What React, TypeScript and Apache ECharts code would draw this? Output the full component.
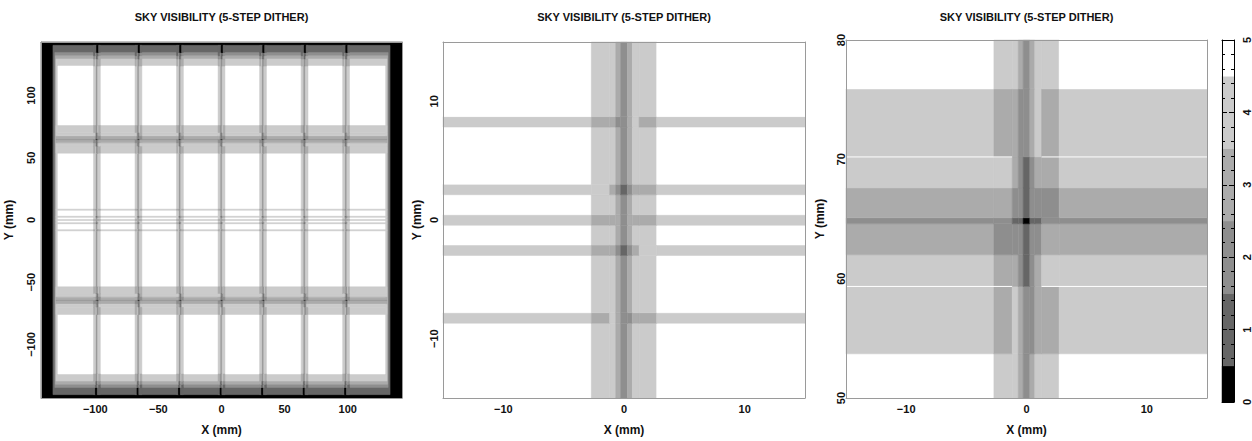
import React, { useEffect, useRef } from "react";
import * as echarts from "echarts";

// grey level for each visibility count 0..5
const grays = ["#000000", "#666666", "#8e8e8e", "#ababab", "#cbcbcb", "#ffffff"];

// x edges (mm, relative to a column-gap centre) of the 7 inner segments
const crossX = [-2.71, -1.19, -0.69, -0.28, 0.28, 0.69, 1.25, 2.71];
// visibility of those 7 segments away from any row gap
const baseInner = [4, 4, 3, 2, 3, 4, 4];

// ---- Panel 2: centre of the mosaic (±15 mm)
const p2XEdges = [-15, -2.71, -1.19, -0.69, -0.28, 0.28, 0.69, 1.25, 2.71, 15];
const p2YEdges = [-15, -8.7, -7.82, -2.99, -2.11, -0.44, 0.44, 2.13, 3.01, 7.83, 8.71, 15];
const p2Values = [
  [5, 4, 4, 3, 2, 3, 4, 4, 5],
  [4, 3, 4, 3, 2, 2, 3, 3, 4],
  [5, 4, 4, 3, 2, 3, 4, 4, 5],
  [4, 3, 3, 2, 1, 2, 3, 4, 4],
  [5, 4, 4, 3, 2, 3, 4, 4, 5],
  [4, 3, 3, 3, 2, 3, 3, 3, 4],
  [5, 4, 4, 3, 2, 3, 4, 4, 5],
  [4, 4, 3, 2, 1, 2, 3, 3, 4],
  [5, 4, 4, 3, 2, 3, 4, 4, 5],
  [4, 3, 3, 2, 2, 3, 4, 3, 4],
  [5, 4, 4, 3, 2, 3, 4, 4, 5],
];

// ---- Panel 3: row gap at Y≈65 mm
const p3XEdges = [-15, -2.71, -1.19, -0.69, -0.28, 0.28, 0.69, 1.25, 2.71, 15];
const p3YEdges = [50, 53.7, 59.35, 62, 64.6, 65.1, 67.6, 70.2, 75.9, 80];
const p3Values = [
  [5, 4, 4, 3, 2, 3, 4, 4, 5],
  [4, 3, 4, 3, 2, 2, 3, 3, 4],
  [4, 3, 3, 2, 1, 2, 3, 4, 4],
  [3, 2, 2, 2, 1, 2, 2, 3, 3],
  [2, 2, 1, 1, 0, 1, 1, 2, 2],
  [3, 3, 2, 2, 1, 2, 2, 2, 3],
  [4, 4, 3, 2, 1, 2, 3, 3, 4],
  [4, 3, 3, 2, 2, 3, 4, 3, 4],
  [5, 4, 4, 3, 2, 3, 4, 4, 5],
];
const p3Seams = [
  [-15, -1.19, 70.2],
  [1.25, 15, 70.2],
  [-15, -1.19, 59.35],
  [1.25, 15, 59.35],
];

// ---- Panel 1: whole mosaic
const p1Half = 143;
const sepX = [-98.7, -65.8, -32.9, 0, 32.9, 65.8, 98.7];
// nested frame: [half width, half height, visibility]
const p1Frame = [
  [133.55, 140.3, 1],
  [132.05, 134.6, 2],
  [131.6, 132, 3],
  [131.11, 129.4, 4],
  [129.62, 123.75, 5],
];
const p1InnerHalfH = 123.75;
const p1BandHalfW = 131.11;
const p1TopEdgeY = [123.75, 129.4, 132, 134.6, 140.3];
const p1TopEdgeValues = [
  [3, 4, 3, 2, 2, 3, 3],
  [2, 3, 2, 1, 1, 2, 3],
  [1, 2, 2, 1, 1, 1, 2],
  [1, 1, 1, 0, 0, 0, 1],
];
const p1BottomEdgeY = [-140.3, -134.6, -132, -129.4, -123.75];
const p1BottomEdgeValues = [
  [1, 0, 0, 0, 1, 1, 1],
  [2, 1, 1, 1, 2, 2, 1],
  [3, 2, 1, 1, 2, 3, 2],
  [3, 3, 2, 2, 3, 4, 3],
];

// ---- colour bar
const cbEdges = [0, 0.5, 1.5, 2.5, 3.5, 4.5, 5];
const cbLevels = [0, 1, 2, 3, 4, 5];

const titleText = "SKY VISIBILITY (5-STEP DITHER)";

type Cell = [number, number, number, number, number];

function cellsFromGrid(xE: number[], yE: number[], vals: number[][]): Cell[] {
  const out: Cell[] = [];
  for (let r = 0; r < vals.length; r++)
    for (let c = 0; c < vals[r].length; c++)
      out.push([xE[c], xE[c + 1], yE[r], yE[r + 1], vals[r][c]]);
  return out;
}

function buildPanel1(): Cell[] {
  const out: Cell[] = [];
  out.push([-p1Half, p1Half, -p1Half, p1Half, 0]);
  p1Frame.forEach(([hx, hy, v]) => out.push([-hx, hx, -hy, hy, v]));
  // column gaps
  sepX.forEach((s) => {
    for (let j = 0; j < 7; j++)
      out.push([s + crossX[j], s + crossX[j + 1], -p1InnerHalfH, p1InnerHalfH, baseInner[j]]);
    for (let b = 0; b < p1TopEdgeValues.length; b++)
      for (let j = 0; j < 7; j++)
        out.push([s + crossX[j], s + crossX[j + 1], p1TopEdgeY[b], p1TopEdgeY[b + 1], p1TopEdgeValues[b][j]]);
    for (let b = 0; b < p1BottomEdgeValues.length; b++)
      for (let j = 0; j < 7; j++)
        out.push([s + crossX[j], s + crossX[j + 1], p1BottomEdgeY[b], p1BottomEdgeY[b + 1], p1BottomEdgeValues[b][j]]);
  });
  // row gaps (full width)
  for (let r = 1; r < p3Values.length - 1; r++) {
    const v = p3Values[r][0];
    out.push([-p1BandHalfW, p1BandHalfW, p3YEdges[r], p3YEdges[r + 1], v]);
    out.push([-p1BandHalfW, p1BandHalfW, -p3YEdges[r + 1], -p3YEdges[r], v]);
  }
  for (let r = 0; r < p2Values.length; r++) {
    if (p2Values[r][0] === 5) continue;
    out.push([-p1BandHalfW, p1BandHalfW, p2YEdges[r], p2YEdges[r + 1], p2Values[r][0]]);
  }
  // crossings
  sepX.forEach((s) => {
    for (let r = 1; r < p3Values.length - 1; r++)
      for (let j = 1; j < 8; j++) {
        out.push([s + crossX[j - 1], s + crossX[j], p3YEdges[r], p3YEdges[r + 1], p3Values[r][j]]);
        out.push([s - crossX[j], s - crossX[j - 1], -p3YEdges[r + 1], -p3YEdges[r], p3Values[r][j]]);
      }
    for (let r = 0; r < p2Values.length; r++) {
      if (p2Values[r][0] === 5) continue;
      for (let j = 1; j < 8; j++)
        out.push([s + crossX[j - 1], s + crossX[j], p2YEdges[r], p2YEdges[r + 1], p2Values[r][j]]);
    }
  });
  return out;
}

function renderRect(params: any, api: any) {
  const x0 = api.value(0), x1 = api.value(1), y0 = api.value(2), y1 = api.value(3);
  const v = api.value(4);
  const a = api.coord([x0, y1]);
  const b = api.coord([x1, y0]);
  const cs = params.coordSys;
  const shape = echarts.graphic.clipRectByRect(
    { x: a[0], y: a[1], width: b[0] - a[0], height: b[1] - a[1] },
    { x: cs.x, y: cs.y, width: cs.width, height: cs.height }
  );
  if (!shape) return null;
  const c = grays[v];
  return { type: "rect", shape, style: { fill: c, stroke: c, lineWidth: 0.5 } };
}

function renderSeam(params: any, api: any) {
  const a = api.coord([api.value(0), api.value(2)]);
  const b = api.coord([api.value(1), api.value(2)]);
  return { type: "line", shape: { x1: a[0], y1: a[1], x2: b[0], y2: b[1] }, style: { stroke: "#ffffff", lineWidth: 1 } };
}

const FONT = "Liberation Sans";
const minus = (v: number) => String(v).replace("-", "\u2212");

const grids = [
  { left: 41, top: 42, width: 361, height: 360 },
  { left: 443, top: 42, width: 362, height: 360 },
  { left: 846, top: 40, width: 361, height: 362 },
  { left: 1222, top: 40, width: 16, height: 362 },
];

function mainX(gi: number, min: number, max: number, split: number) {
  return {
    gridIndex: gi, type: "value", min, max, splitNumber: split, position: "bottom", z: 10,
    axisLine: { show: true, onZero: false, lineStyle: { color: "#9a9a9a", width: 1 } },
    axisTick: { show: false }, splitLine: { show: false },
    axisLabel: { margin: 5, fontSize: 11, fontWeight: "bold", fontFamily: FONT, color: "#111", showMinLabel: false, showMaxLabel: false, formatter: minus },
    name: "X (mm)", nameLocation: "middle", nameGap: 26,
    nameTextStyle: { fontSize: 12, fontWeight: "bold", fontFamily: FONT, color: "#111" },
  };
}
function frameX(gi: number, min: number, max: number) {
  return {
    gridIndex: gi, type: "value", min, max, position: "top", z: 10,
    axisLine: { show: true, onZero: false, lineStyle: { color: "#9a9a9a", width: 1 } },
    axisTick: { show: false }, axisLabel: { show: false }, splitLine: { show: false },
  };
}
function mainY(gi: number, min: number, max: number, split: number, margin: number, nameGap: number, edgeLabels: boolean) {
  return {
    gridIndex: gi, type: "value", min, max, splitNumber: split, position: "left", z: 10,
    axisLine: { show: true, onZero: false, lineStyle: { color: "#9a9a9a", width: 1 } },
    axisTick: { show: false }, splitLine: { show: false },
    axisLabel: { rotate: 90, margin, fontSize: 11, fontWeight: "bold", fontFamily: FONT, color: "#111", showMinLabel: edgeLabels, showMaxLabel: edgeLabels, formatter: minus },
    name: "Y (mm)", nameLocation: "middle", nameGap, nameRotate: 90,
    nameTextStyle: { fontSize: 12, fontWeight: "bold", fontFamily: FONT, color: "#111" },
  };
}
function frameY(gi: number, min: number, max: number) {
  return {
    gridIndex: gi, type: "value", min, max, position: "right", z: 10,
    axisLine: { show: true, onZero: false, lineStyle: { color: "#9a9a9a", width: 1 } },
    axisTick: { show: false }, axisLabel: { show: false }, splitLine: { show: false },
  };
}

export default function App() {
  const ref = useRef<HTMLDivElement>(null);
  useEffect(() => {
    if (!ref.current) return;
    const chart = echarts.init(ref.current, undefined, { renderer: "svg" });
    const p1 = buildPanel1();
    const p2 = cellsFromGrid(p2XEdges, p2YEdges, p2Values);
    const p3 = cellsFromGrid(p3XEdges, p3YEdges, p3Values);
    const cb: Cell[] = cbLevels.map((v, i) => [0, 1, cbEdges[i], cbEdges[i + 1], v]);
    const cbAxisLine = { show: true, onZero: false, lineStyle: { color: "#000", width: 1 } };
    const custom = (data: Cell[], xi: number, yi: number) => ({
      type: "custom", xAxisIndex: xi, yAxisIndex: yi, renderItem: renderRect, data,
      dimensions: ["x0", "x1", "y0", "y1", "v"], encode: { x: [0, 1], y: [2, 3] },
      progressive: 0, silent: true,
    });
    const titleCenters = [221.5, 624, 1026.5];
    chart.setOption({
      animation: false,
      backgroundColor: "#ffffff",
      grid: grids,
      graphic: titleCenters.map((x) => ({
        type: "text", x, y: 17,
        style: { text: titleText, fontSize: 11, fontWeight: "bold", fontFamily: FONT, fill: "#111", align: "center", verticalAlign: "middle" },
      })),
      xAxis: [
        mainX(0, -p1Half, p1Half, 5), frameX(0, -p1Half, p1Half),
        mainX(1, -15, 15, 3), frameX(1, -15, 15),
        mainX(2, -15, 15, 3), frameX(2, -15, 15),
        { gridIndex: 3, type: "value", min: 0, max: 1, position: "bottom", z: 10, axisLine: cbAxisLine, axisTick: { show: false }, axisLabel: { show: false }, splitLine: { show: false } },
        { gridIndex: 3, type: "value", min: 0, max: 1, position: "top", z: 10, axisLine: cbAxisLine, axisTick: { show: false }, axisLabel: { show: false }, splitLine: { show: false } },
      ],
      yAxis: [
        mainY(0, -p1Half, p1Half, 5, 5, 26, false), frameY(0, -p1Half, p1Half),
        mainY(1, -15, 15, 3, 4, 20, false), frameY(1, -15, 15),
        { ...mainY(2, 50, 80, 3, 0, 20, true), interval: 10 }, frameY(2, 50, 80),
        {
          gridIndex: 3, type: "value", min: 0, max: 5, interval: 1, position: "left", z: 10,
          axisLine: cbAxisLine, axisLabel: { show: false }, splitLine: { show: false },
          axisTick: { show: true, inside: true, length: 5, lineStyle: { color: "#000" } },
          minorTick: { show: true, splitNumber: 5, length: 3, lineStyle: { color: "#000" } },
        },
        {
          gridIndex: 3, type: "value", min: 0, max: 5, interval: 1, position: "right", z: 10,
          axisLine: cbAxisLine, splitLine: { show: false },
          axisTick: { show: true, inside: true, length: 5, lineStyle: { color: "#000" } },
          minorTick: { show: true, splitNumber: 5, length: 3, lineStyle: { color: "#000" } },
          axisLabel: { rotate: 90, margin: 7, fontSize: 11, fontWeight: "bold", fontFamily: FONT, color: "#111" },
        },
      ],
      series: [
        custom(p1, 0, 0),
        custom(p2, 2, 2),
        custom(p3, 4, 4),
        {
          type: "custom", xAxisIndex: 4, yAxisIndex: 4, renderItem: renderSeam, data: p3Seams,
          dimensions: ["x0", "x1", "y"], encode: { x: [0, 1], y: [2] }, silent: true,
        },
        custom(cb, 6, 6),
      ],
    });
    return () => chart.dispose();
  }, []);
  return <div ref={ref} style={{ position: "absolute", left: 0, top: 0, width: 1252, height: 441 }} />;
}
